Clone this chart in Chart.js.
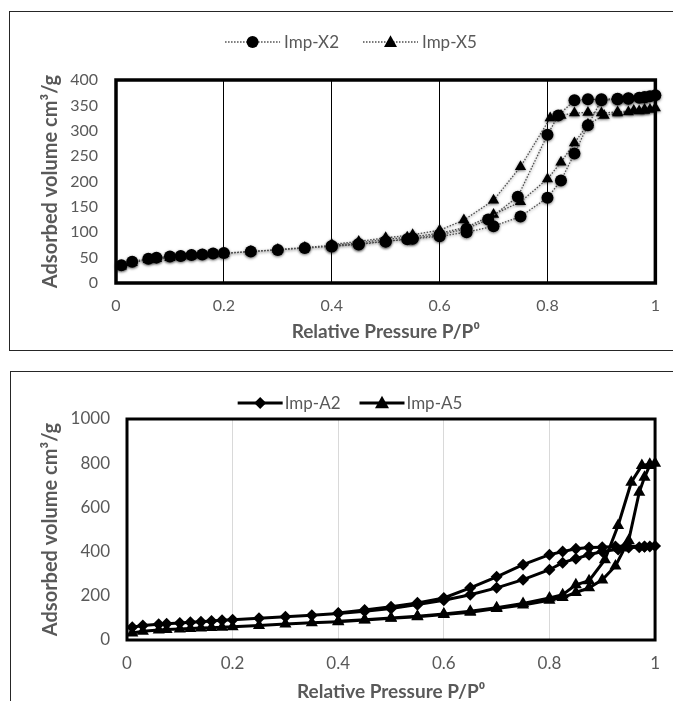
<!DOCTYPE html>
<html>
<head>
<meta charset="utf-8">
<script src="https://cdn.jsdelivr.net/npm/chart.js@4/dist/chart.umd.min.js"></script>
<style>
  html, body { margin: 0; padding: 0; background: #fff; }
  body { width: 673px; height: 701px; position: relative; overflow: hidden; }
  .box { position: absolute; border: 1.5px solid #262626; }
  #box1 { left: 9px; top: 11px; width: 680px; height: 338px; }
  #box2 { left: 10px; top: 371px; width: 680px; height: 360px; }
  canvas { position: absolute; left: 0; }
  #c1 { top: 0; }
  #c2 { top: 355px; }
</style>
</head>
<body>
<div class="box" id="box1"></div>
<div class="box" id="box2"></div>
<canvas id="c1" width="673" height="355"></canvas>
<canvas id="c2" width="673" height="346"></canvas>
<script>
// ---------- Data: top chart (Imp-X2, Imp-X5) ----------
const x2AdsP = [0.01,0.03,0.06,0.075,0.10,0.12,0.14,0.16,0.18,0.20,0.25,0.30,0.35,0.40,0.45,0.50,0.54,0.55,0.60,0.65,0.70,0.75,0.80,0.825,0.85,0.875,0.90,0.93,0.95,0.97,0.98,0.99,1.00];
const x2AdsV = [35,42,48,50,52,53,55,56,58,59,62,65,69,72,76,82,86,87,92,100,112,131,168,202,255,311,360,362,363,365,366,368,370];
const x2DesP = [0.98,0.95,0.93,0.90,0.875,0.85,0.82,0.80,0.745,0.69,0.65,0.60,0.55,0.50,0.45,0.40];
const x2DesV = [366,364,363,362,362,360,330,292,170,125,107,95,88,82,77,73];

const x5AdsP = [0.01,0.03,0.06,0.075,0.10,0.12,0.14,0.16,0.18,0.20,0.25,0.30,0.35,0.40,0.45,0.50,0.54,0.55,0.60,0.65,0.70,0.75,0.80,0.825,0.85,0.875,0.905,0.93,0.95,0.97,0.98,0.99,1.00];
const x5AdsV = [33,40,46,48,50,52,54,55,57,58,62,66,70,74,79,86,90,91,98,110,135,160,205,238,276,313,330,335,337,339,340,342,345];
const x5DesP = [0.98,0.96,0.93,0.90,0.875,0.85,0.825,0.805,0.75,0.70,0.645,0.60,0.55,0.50,0.45,0.40];
const x5DesV = [342,340,337,335,336,335,330,325,229,163,124,104,95,89,82,76];

// ---------- Data: bottom chart (Imp-A2, Imp-A5) ----------
const a2AdsP = [0.01,0.03,0.06,0.075,0.10,0.12,0.14,0.16,0.18,0.20,0.25,0.30,0.35,0.40,0.45,0.50,0.55,0.60,0.65,0.70,0.75,0.80,0.825,0.85,0.875,0.90,0.93,0.95,0.97,0.98,0.99,1.00];
const a2AdsV = [58,66,71,74,77,80,83,86,89,92,98,105,112,120,130,143,160,180,205,236,273,318,350,368,386,400,410,418,420,422,423,425];
const a2DesP = [0.98,0.945,0.925,0.90,0.875,0.85,0.825,0.80,0.75,0.70,0.65,0.60,0.55,0.50,0.45,0.40];
const a2DesV = [423,425,423,420,418,413,400,386,341,286,236,190,168,150,136,122];

const a5AdsP = [0.01,0.03,0.06,0.075,0.10,0.12,0.14,0.16,0.18,0.20,0.25,0.30,0.35,0.40,0.45,0.50,0.55,0.60,0.65,0.70,0.75,0.80,0.825,0.85,0.875,0.90,0.925,0.95,0.97,0.98,0.99,1.00];
const a5AdsV = [32,40,45,48,50,52,54,56,58,60,66,72,78,83,90,98,105,115,126,142,158,180,192,215,236,272,335,450,668,736,790,800];
const a5DesP = [0.99,0.975,0.955,0.93,0.905,0.875,0.85,0.825,0.80,0.75,0.70,0.65,0.60,0.55,0.50,0.45,0.40];
const a5DesV = [795,790,714,518,363,268,250,205,190,165,146,130,118,108,100,92,85];

// ---------- Axis ticks ----------
const xTicks = [0,0.2,0.4,0.6,0.8,1];
const yTicksTop = [0,50,100,150,200,250,300,350,400];
const yTicksBottom = [0,200,400,600,800,1000];

const toPts = (P, V) => P.map((p, i) => ({x: p, y: V[i]}));
const loop = (aP, aV, dP, dV) => toPts(aP, aV).concat(toPts(dP, dV));

const FONT = "Lato, 'Open Sans', 'Liberation Sans', sans-serif";
const GRAY = '#595959';

function drawMarker(ctx, style, r, x, y) {
  ctx.beginPath();
  if (style === 'circle') {
    ctx.arc(x, y, r, 0, Math.PI * 2);
  } else if (style === 'triangle') {
    ctx.moveTo(x, y - r * 1.05);
    ctx.lineTo(x + r * 1.0, y + r * 0.75);
    ctx.lineTo(x - r * 1.0, y + r * 0.75);
    ctx.closePath();
  } else if (style === 'rectRot') {
    ctx.moveTo(x, y - r);
    ctx.lineTo(x + r, y);
    ctx.lineTo(x, y + r);
    ctx.lineTo(x - r, y);
    ctx.closePath();
  }
  ctx.fill();
}

const legendPlugin = {
  id: 'xlLegend',
  afterDraw(chart, args, o) {
    const ctx = chart.ctx;
    ctx.save();
    ctx.font = o.font;
    const items = chart.data.datasets.map(ds => ({ds, w: ctx.measureText(ds.label).width}));
    const total = items.reduce((s, it) => s + o.lineLen + o.textGap + it.w, 0) + o.itemGap * (items.length - 1);
    let x = o.centerX - total / 2;
    const y = o.y;
    items.forEach(it => {
      const ds = it.ds;
      ctx.strokeStyle = ds.borderColor;
      ctx.lineWidth = ds.borderWidth;
      ctx.setLineDash(ds.borderDash || []);
      ctx.beginPath();
      ctx.moveTo(x, y); ctx.lineTo(x + o.lineLen, y);
      ctx.stroke();
      ctx.setLineDash([]);
      ctx.fillStyle = '#000';
      drawMarker(ctx, ds.pointStyle, ds.pointRadius, x + o.lineLen / 2, y);
      ctx.fillStyle = GRAY;
      ctx.textAlign = 'left';
      ctx.textBaseline = 'middle';
      ctx.fillText(ds.label, x + o.lineLen + o.textGap, y + 1);
      x += o.lineLen + o.textGap + it.w + o.itemGap;
    });
    ctx.restore();
  }
};

const frameAndShadow = {
  id: 'frameAndShadow',
  beforeDatasetsDraw(chart, args, o) {
    const {ctx, chartArea: a} = chart;
    ctx.save();
    ctx.strokeStyle = '#000';
    ctx.lineWidth = o.frameWidth;
    ctx.strokeRect(a.left, a.top, a.right - a.left, a.bottom - a.top);
    ctx.restore();
    if (o.shadow) {
      ctx.save();
      ctx.shadowColor = 'rgba(0,0,0,0.55)';
      ctx.shadowBlur = 3;
      ctx.shadowOffsetX = 0;
      ctx.shadowOffsetY = 1;
    }
  },
  afterDatasetsDraw(chart, args, o) {
    if (o.shadow) chart.ctx.restore();
  }
};

function makeOptions(cfg) {
  return {
    responsive: false,
    animation: false,
    devicePixelRatio: 1,
    layout: { padding: cfg.padding },
    plugins: {
      legend: { display: false },
      tooltip: { enabled: false },
      xlLegend: cfg.legend,
      frameAndShadow: { frameWidth: cfg.frameWidth, shadow: cfg.shadow }
    },
    scales: {
      x: {
        type: 'linear', min: 0, max: 1,
        afterBuildTicks: s => { s.ticks = xTicks.map(v => ({value: v})); },
        afterFit: s => { s.height = cfg.xHeight; },
        ticks: {
          color: GRAY, padding: cfg.xTickPad,
          font: {family: FONT, size: cfg.tickSize},
          callback: v => String(+v.toFixed(1))
        },
        grid: {
          color: ctx => (ctx.tick && (ctx.tick.value === 0 || ctx.tick.value === 1)) ? 'rgba(0,0,0,0)' : cfg.gridColor,
          lineWidth: 1, drawTicks: false
        },
        border: { display: false },
        title: {
          display: true, text: 'Relative Pressure P/P\u2070', color: GRAY,
          font: {family: FONT, size: 19, weight: 'bold'}, padding: {top: 0, bottom: cfg.xTitlePadBottom}
        }
      },
      y: {
        type: 'linear', min: 0, max: cfg.yMax,
        afterBuildTicks: s => { s.ticks = cfg.yTicks.map(v => ({value: v})); },
        afterFit: s => { s.width = cfg.yWidth; },
        ticks: {
          color: GRAY, padding: cfg.yTickPad,
          font: {family: FONT, size: cfg.tickSize},
          callback: v => String(v)
        },
        grid: { display: false, drawTicks: false },
        border: { display: false },
        title: {
          display: true, text: 'Adsorbed volume cm\u00b3/g', color: GRAY,
          font: {family: FONT, size: 20, weight: 'bold'}, padding: {top: cfg.yTitlePadTop, bottom: 0}
        }
      }
    }
  };
}

// ---------- Top chart ----------
new Chart(document.getElementById('c1'), {
  type: 'scatter',
  data: {
    datasets: [
      { label: 'Imp-X2', data: loop(x2AdsP, x2AdsV, x2DesP, x2DesV), showLine: true,
        borderColor: '#4d4d4d', borderWidth: 1.3, borderDash: [1.5, 1.5],
        pointStyle: 'circle', pointRadius: 6, pointBackgroundColor: '#000', pointBorderColor: '#000', pointBorderWidth: 0, clip: 12 },
      { label: 'Imp-X5', data: loop(x5AdsP, x5AdsV, x5DesP, x5DesV), showLine: true,
        borderColor: '#4d4d4d', borderWidth: 1.3, borderDash: [1.5, 1.5],
        pointStyle: 'triangle', pointRadius: 6.5, pointBackgroundColor: '#000', pointBorderColor: '#000', pointBorderWidth: 0, clip: 12 }
    ]
  },
  options: makeOptions({
    padding: {left: 0, right: 17, top: 80, bottom: 12},
    xHeight: 60, yWidth: 116, xTickPad: 13, yTickPad: 18, tickSize: 16,
    xTitlePadBottom: 0, yTitlePadTop: 39, yMax: 400, yTicks: yTicksTop,
    gridColor: '#000', frameWidth: 3.5, shadow: true,
    legend: {font: "17px " + FONT, centerX: 351, y: 42, lineLen: 55, textGap: 4, itemGap: 24}
  }),
  plugins: [legendPlugin, frameAndShadow]
});

// ---------- Bottom chart ----------
new Chart(document.getElementById('c2'), {
  type: 'scatter',
  data: {
    datasets: [
      { label: 'Imp-A2', data: loop(a2AdsP, a2AdsV, a2DesP, a2DesV), showLine: true,
        borderColor: '#000', borderWidth: 3,
        pointStyle: 'rectRot', pointRadius: 6, pointBackgroundColor: '#000', pointBorderColor: '#000', pointBorderWidth: 0, clip: 12 },
      { label: 'Imp-A5', data: loop(a5AdsP, a5AdsV, a5DesP, a5DesV), showLine: true,
        borderColor: '#000', borderWidth: 3,
        pointStyle: 'triangle', pointRadius: 7, pointBackgroundColor: '#000', pointBorderColor: '#000', pointBorderWidth: 0, clip: 12 }
    ]
  },
  options: makeOptions({
    padding: {left: 0, right: 17, top: 64, bottom: 0},
    xHeight: 61, yWidth: 127, xTickPad: 13, yTickPad: 17, tickSize: 17,
    xTitlePadBottom: -2, yTitlePadTop: 39, yMax: 1000, yTicks: yTicksBottom,
    gridColor: '#d9d9d9', frameWidth: 3, shadow: false,
    legend: {font: "17px " + FONT, centerX: 350, y: 48, lineLen: 45, textGap: 2, itemGap: 19}
  }),
  plugins: [legendPlugin, frameAndShadow]
});
</script>
</body>
</html>
